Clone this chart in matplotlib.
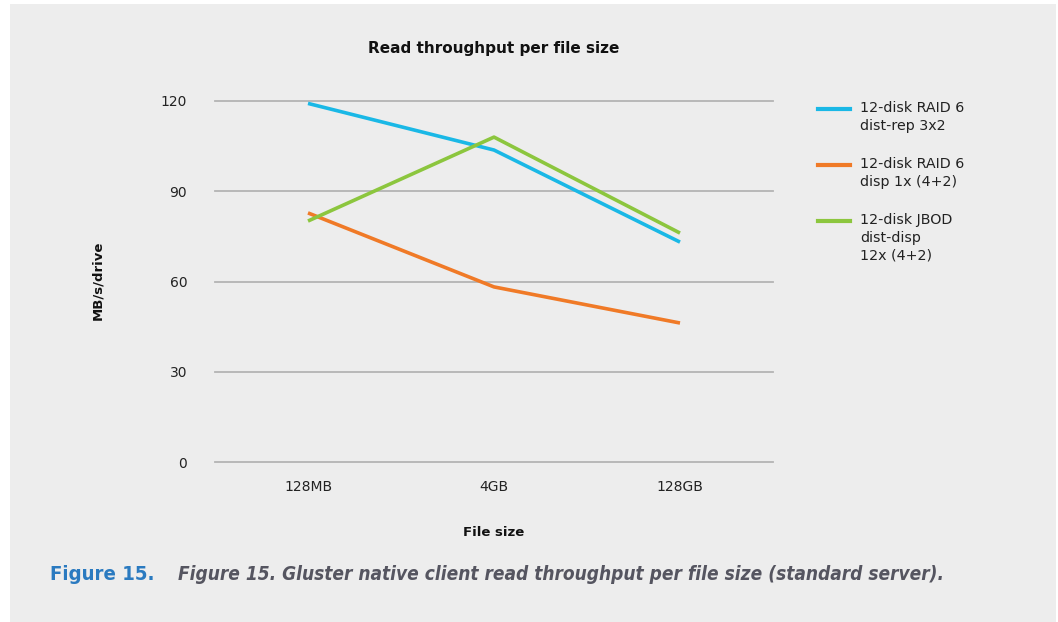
import matplotlib
matplotlib.use("Agg")
import matplotlib.pyplot as plt
from matplotlib.patches import Rectangle
from matplotlib.lines import Line2D

categories = ["128MB", "4GB", "128GB"]
series_names = ["12-disk RAID 6\ndist-rep 3x2",
                "12-disk RAID 6\ndisp 1x (4+2)",
                "12-disk JBOD\ndist-disp\n12x (4+2)"]
raid6_distrep = [119.2, 103.7, 73.1]
raid6_disp = [82.8, 58.2, 46.2]
jbod_distdisp = [80.1, 108.0, 76.1]
colors = ["#1ab8e6", "#f07a27", "#8cc63e"]
yticks = [0, 30, 60, 90, 120]

W, H = 1058, 622
fig = plt.figure(figsize=(W / 100, H / 100), dpi=100, facecolor="white")
fig.patches.append(Rectangle((10 / W, 0), (1056 - 10) / W, 1 - 4 / H,
                             transform=fig.transFigure, facecolor="#ededed",
                             edgecolor="none", zorder=-10))

ax = fig.add_axes([215 / W, 1 - 462 / H, (773 - 215) / W, (462 - 101) / H])
ax.set_facecolor("none")
x = list(range(len(categories)))
for vals, name, c in zip([raid6_distrep, raid6_disp, jbod_distdisp], series_names, colors):
    ax.plot(x, vals, color=c, lw=2.6, label=name, solid_capstyle="butt")

ax.set_xlim(-0.5, 2.5)
ax.set_ylim(0, 120)
ax.set_yticks(yticks)
ax.set_xticks(x)
ax.set_xticklabels(categories)
ax.yaxis.grid(True, color="#b4b4b4", lw=1.3)
for gl in ax.get_ygridlines():
    gl.set_clip_on(False)
ax.set_axisbelow(True)
for s in ax.spines.values():
    s.set_visible(False)
ax.tick_params(axis="both", length=0, labelsize=10, colors="#222222")
ax.tick_params(axis="y", pad=20)
ax.tick_params(axis="x", pad=13)

fig.text(494 / W, 1 - 48 / H, "Read throughput per file size", ha="center", va="center",
         fontsize=11, fontweight="bold", color="#111111")
fig.text(98 / W, 1 - 280 / H, "MB/s/drive", ha="center", va="center", rotation=90,
         fontsize=9.5, fontweight="bold", color="#111111")
fig.text(494 / W, 1 - 532 / H, "File size", ha="center", va="center",
         fontsize=9.5, fontweight="bold", color="#111111")

# legend drawn manually so the handle aligns with the first text line
legend_tops = [109, 165, 221]
for top, name, c in zip(legend_tops, series_names, colors):
    fig.add_artist(Line2D([818 / W, 850 / W], [1 - top / H, 1 - top / H],
                          transform=fig.transFigure, color=c, lw=3))
    fig.text(860 / W, 1 - (top - 8) / H, name, ha="left", va="top", fontsize=10.3,
             color="#222222", linespacing=1.35)

fig.canvas.draw()
renderer = fig.canvas.get_renderer()


def fit_text(xpx, ypx, s, width_px, **kw):
    t = fig.text(xpx / W, 1 - ypx / H, s, ha="left", va="center", fontsize=15, **kw)
    w = t.get_window_extent(renderer).width
    t.set_fontsize(15 * width_px / w)
    return t


fit_text(50, 575, "Figure 15.", 105, fontweight="bold", color="#2a7ac0",
         fontstretch="condensed")
fit_text(178, 575,
         "Figure 15. Gluster native client read throughput per file size (standard server).",
         770, fontstyle="italic", fontweight="bold", color="#555560", fontstretch="condensed")

fig.savefig("out.png", dpi=100, facecolor=fig.get_facecolor())
